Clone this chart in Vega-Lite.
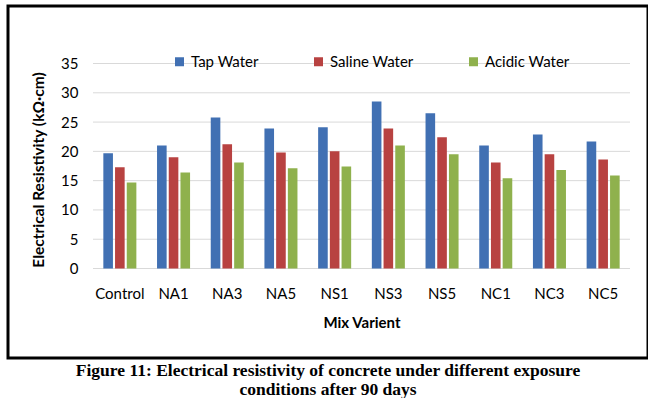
{
  "$schema": "https://vega.github.io/schema/vega-lite/v6.json",
  "background": "white",
  "padding": {"left": 8, "top": 6, "right": 0, "bottom": 0},
  "width": 640,
  "height": 352,
  "title": {
    "text": ["Figure 11: Electrical resistivity of concrete under different exposure", "conditions after 90 days"],
    "orient": "bottom",
    "anchor": "middle",
    "font": "Liberation Serif",
    "fontSize": 17.5,
    "fontWeight": "bold",
    "color": "#000000",
    "lineHeight": 18.5,
    "offset": 4
  },
  "config": {
    "view": {"stroke": "#000000", "strokeWidth": 3},
    "font": "Lato"
  },
  "datasets": {
    "grid": [
      {"v": 0, "a": 0, "b": 1},
      {"v": 5, "a": 0, "b": 1},
      {"v": 10, "a": 0, "b": 1},
      {"v": 15, "a": 0, "b": 1},
      {"v": 20, "a": 0, "b": 1},
      {"v": 25, "a": 0, "b": 1},
      {"v": 30, "a": 0, "b": 1},
      {"v": 35, "a": 0, "b": 1}
    ],
    "res": [
      {"mix": "Control", "water": "Tap Water", "value": 19.7},
      {"mix": "Control", "water": "Saline Water", "value": 17.3},
      {"mix": "Control", "water": "Acidic Water", "value": 14.7},
      {"mix": "NA1", "water": "Tap Water", "value": 21.0},
      {"mix": "NA1", "water": "Saline Water", "value": 19.0},
      {"mix": "NA1", "water": "Acidic Water", "value": 16.4},
      {"mix": "NA3", "water": "Tap Water", "value": 25.8},
      {"mix": "NA3", "water": "Saline Water", "value": 21.2},
      {"mix": "NA3", "water": "Acidic Water", "value": 18.1},
      {"mix": "NA5", "water": "Tap Water", "value": 23.9},
      {"mix": "NA5", "water": "Saline Water", "value": 19.8},
      {"mix": "NA5", "water": "Acidic Water", "value": 17.1},
      {"mix": "NS1", "water": "Tap Water", "value": 24.1},
      {"mix": "NS1", "water": "Saline Water", "value": 20.0},
      {"mix": "NS1", "water": "Acidic Water", "value": 17.4},
      {"mix": "NS3", "water": "Tap Water", "value": 28.5},
      {"mix": "NS3", "water": "Saline Water", "value": 23.9},
      {"mix": "NS3", "water": "Acidic Water", "value": 21.0},
      {"mix": "NS5", "water": "Tap Water", "value": 26.5},
      {"mix": "NS5", "water": "Saline Water", "value": 22.4},
      {"mix": "NS5", "water": "Acidic Water", "value": 19.5},
      {"mix": "NC1", "water": "Tap Water", "value": 21.0},
      {"mix": "NC1", "water": "Saline Water", "value": 18.1},
      {"mix": "NC1", "water": "Acidic Water", "value": 15.4},
      {"mix": "NC3", "water": "Tap Water", "value": 22.9},
      {"mix": "NC3", "water": "Saline Water", "value": 19.5},
      {"mix": "NC3", "water": "Acidic Water", "value": 16.8},
      {"mix": "NC5", "water": "Tap Water", "value": 21.7},
      {"mix": "NC5", "water": "Saline Water", "value": 18.6},
      {"mix": "NC5", "water": "Acidic Water", "value": 15.9}
    ]
  },
  "resolve": {"scale": {"x": "independent"}},
  "layer": [
    {
      "data": {"name": "grid"},
      "mark": {"type": "rule", "color": "#D9D9D9", "strokeWidth": 1},
      "encoding": {
        "x": {"field": "a", "type": "quantitative", "axis": null, "scale": {"domain": [0, 1], "range": [85, 622], "nice": false, "zero": false}},
        "x2": {"field": "b"},
        "y": {"field": "v", "type": "quantitative"}
      }
    },
    {
      "data": {"name": "res"},
      "mark": {"type": "bar"},
      "encoding": {
        "x": {
          "field": "mix",
          "type": "nominal",
          "sort": ["Control", "NA1", "NA3", "NA5", "NS1", "NS3", "NS5", "NC1", "NC3", "NC5"],
          "scale": {"range": [85, 622], "paddingInner": 0.385, "paddingOuter": 0.1925},
          "axis": {
            "orient": "bottom",
            "offset": -89.5,
            "title": "Mix Varient",
            "titleFont": "Lato",
            "titleFontSize": 15,
            "titleFontWeight": "bold",
            "titleColor": "#000000",
            "titlePadding": 14,
            "labelAngle": 0,
            "labelFont": "Lato",
            "labelFontSize": 15,
            "labelColor": "#000000",
            "labelPadding": 18,
            "domain": false,
            "ticks": false,
            "grid": false
          }
        },
        "xOffset": {
          "field": "water",
          "type": "nominal",
          "sort": ["Tap Water", "Saline Water", "Acidic Water"],
          "scale": {"paddingInner": 0.18, "paddingOuter": 0}
        },
        "y": {
          "field": "value",
          "type": "quantitative",
          "scale": {"domain": [-15.28, 44.82], "nice": false, "zero": false},
          "axis": {
            "orient": "left",
            "offset": -85,
            "values": [0, 5, 10, 15, 20, 25, 30, 35],
            "title": "Electrical Resistivity  (kΩ·cm)",
            "titleFont": "Lato",
            "titleFontSize": 15.5,
            "titleFontWeight": "bold",
            "titleColor": "#000000",
            "titleX": -47,
            "titleY": 163.5,
            "titleAngle": -90,
            "titleBaseline": "bottom",
            "titleAlign": "center",
            "labelFont": "Lato",
            "labelFontSize": 15,
            "labelColor": "#000000",
            "labelPadding": 15,
            "domain": false,
            "ticks": false,
            "grid": false
          }
        },
        "color": {
          "field": "water",
          "type": "nominal",
          "scale": {
            "domain": ["Tap Water", "Saline Water", "Acidic Water"],
            "range": ["#4170B3", "#B84241", "#8FB14D"]
          },
          "legend": {
            "orient": "none",
            "legendX": 164,
            "legendY": 48,
            "direction": "horizontal",
            "columns": 3,
            "columnPadding": 52,
            "title": null,
            "padding": 0,
            "symbolType": "square",
            "symbolSize": 81,
            "symbolStrokeWidth": 0,
            "labelFont": "Lato",
            "labelFontSize": 15,
            "labelColor": "#000000",
            "labelOffset": 4
          }
        }
      }
    }
  ]
}
